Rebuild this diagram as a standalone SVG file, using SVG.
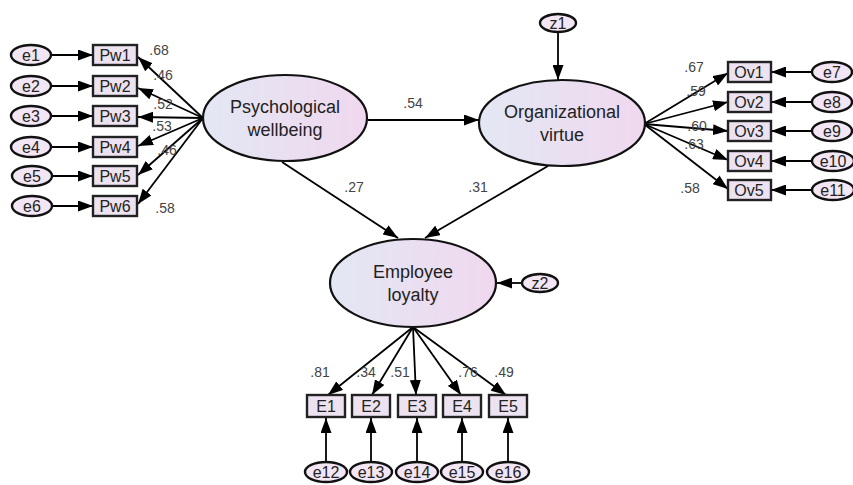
<svg xmlns="http://www.w3.org/2000/svg" width="853" height="485" viewBox="0 0 853 485">
<defs>
<linearGradient id="lat" x1="0" y1="0" x2="1" y2="0">
<stop offset="0" stop-color="#e3e7f4"/>
<stop offset="1" stop-color="#f0d8ef"/>
</linearGradient>
<marker id="ah" viewBox="0 0 15 11" refX="15" refY="5.5" markerWidth="15" markerHeight="11" orient="auto" markerUnits="userSpaceOnUse">
<path d="M0,0 L15,5.5 L0,11 z" fill="#000"/>
</marker>
<style>
.lat{fill:url(#lat);stroke:#111;stroke-width:2.2}
.err{fill:#f2e6f4;stroke:#111;stroke-width:2.4}
.box{fill:#ece2f0;stroke:#222;stroke-width:2.4}
.ln{stroke:#000;stroke-width:1.8;fill:none;marker-end:url(#ah)}
.t{font-family:"Liberation Sans",Arial,sans-serif;fill:#222;text-anchor:middle}
.big{font-size:18px}
.obs{font-size:16px}
.er{font-size:16px}
.lb{font-family:"Liberation Sans",Arial,sans-serif;font-size:14px;fill:#444;text-anchor:middle}
</style>
</defs>
<rect width="853" height="485" fill="#fff"/>

<g id="connectors">
<line class="ln" x1="52" y1="55" x2="93" y2="55"/>
<line class="ln" x1="52" y1="86" x2="93" y2="86"/>
<line class="ln" x1="52" y1="116" x2="93" y2="116"/>
<line class="ln" x1="52" y1="147" x2="93" y2="147"/>
<line class="ln" x1="53" y1="176" x2="93" y2="176"/>
<line class="ln" x1="53" y1="206" x2="93" y2="206"/>
<line class="ln" x1="203" y1="118" x2="138" y2="57"/>
<line class="ln" x1="203" y1="118" x2="138" y2="88"/>
<line class="ln" x1="203" y1="118" x2="138" y2="117"/>
<line class="ln" x1="203" y1="118" x2="138" y2="146"/>
<line class="ln" x1="203" y1="118" x2="138" y2="175"/>
<line class="ln" x1="203" y1="118" x2="138" y2="204"/>
<line class="ln" x1="644" y1="124" x2="728" y2="73"/>
<line class="ln" x1="644" y1="124" x2="728" y2="102"/>
<line class="ln" x1="644" y1="124" x2="728" y2="131"/>
<line class="ln" x1="644" y1="124" x2="728" y2="160"/>
<line class="ln" x1="644" y1="124" x2="728" y2="189"/>
<line class="ln" x1="812" y1="72" x2="771" y2="72"/>
<line class="ln" x1="812" y1="102" x2="771" y2="102"/>
<line class="ln" x1="812" y1="131" x2="771" y2="131"/>
<line class="ln" x1="812" y1="161" x2="771" y2="161"/>
<line class="ln" x1="812" y1="190" x2="771" y2="190"/>
<line class="ln" x1="368" y1="120" x2="479" y2="120"/>
<line class="ln" x1="558" y1="32" x2="558" y2="80"/>
<line class="ln" x1="282" y1="162" x2="398" y2="238"/>
<line class="ln" x1="548" y1="166" x2="425" y2="238"/>
<line class="ln" x1="522" y1="283" x2="497" y2="283"/>
<line class="ln" x1="413" y1="327" x2="328" y2="395"/>
<line class="ln" x1="413" y1="327" x2="372" y2="395"/>
<line class="ln" x1="413" y1="327" x2="416" y2="395"/>
<line class="ln" x1="413" y1="327" x2="461" y2="395"/>
<line class="ln" x1="413" y1="327" x2="506" y2="395"/>
<line class="ln" x1="326" y1="462" x2="326" y2="418"/>
<line class="ln" x1="371" y1="462" x2="371" y2="418"/>
<line class="ln" x1="417" y1="462" x2="417" y2="418"/>
<line class="ln" x1="462" y1="462" x2="462" y2="418"/>
<line class="ln" x1="508" y1="462" x2="508" y2="418"/>
</g>

<g id="labels">
<text class="lb" x="159" y="55">.68</text>
<text class="lb" x="163" y="80">.46</text>
<text class="lb" x="163" y="109">.52</text>
<text class="lb" x="162" y="131">.53</text>
<text class="lb" x="167" y="155">.46</text>
<text class="lb" x="165" y="213">.58</text>
<text class="lb" x="694" y="72">.67</text>
<text class="lb" x="696" y="96">.59</text>
<text class="lb" x="697" y="131">.60</text>
<text class="lb" x="694" y="149">.63</text>
<text class="lb" x="690" y="193">.58</text>
<text class="lb" x="413" y="108">.54</text>
<text class="lb" x="354" y="192">.27</text>
<text class="lb" x="478" y="192">.31</text>
<text class="lb" x="320" y="377">.81</text>
<text class="lb" x="366" y="377">.34</text>
<text class="lb" x="400" y="377">.51</text>
<text class="lb" x="468" y="377">.76</text>
<text class="lb" x="504" y="377">.49</text>
</g>

<g id="psych"><ellipse class="lat" cx="285" cy="118" rx="82" ry="43"/><text class="t big" x="285" y="113">Psychological</text><text class="t big" x="285" y="136">wellbeing</text></g>
<g id="org"><ellipse class="lat" cx="562" cy="123" rx="83" ry="43"/><text class="t big" x="562" y="118">Organizational</text><text class="t big" x="562" y="141">virtue</text></g>
<g id="emp"><ellipse class="lat" cx="413" cy="283" rx="83" ry="44"/><text class="t big" x="413" y="278">Employee</text><text class="t big" x="413" y="301">loyalty</text></g>

<g id="z1"><ellipse class="err" cx="558" cy="23" rx="18" ry="9"/><text class="t er" x="558" y="29">z1</text></g>
<g id="z2"><ellipse class="err" cx="540" cy="283" rx="18" ry="9"/><text class="t er" x="540" y="289">z2</text></g>

<g id="Pw1"><rect class="box" x="93" y="45" width="44" height="20"/><text class="t obs" x="115" y="61">Pw1</text></g>
<g id="Pw2"><rect class="box" x="93" y="76" width="44" height="20"/><text class="t obs" x="115" y="92">Pw2</text></g>
<g id="Pw3"><rect class="box" x="93" y="106" width="44" height="20"/><text class="t obs" x="115" y="122">Pw3</text></g>
<g id="Pw4"><rect class="box" x="93" y="137" width="44" height="20"/><text class="t obs" x="115" y="153">Pw4</text></g>
<g id="Pw5"><rect class="box" x="93" y="166" width="44" height="20"/><text class="t obs" x="115" y="182">Pw5</text></g>
<g id="Pw6"><rect class="box" x="93" y="196" width="44" height="20"/><text class="t obs" x="115" y="212">Pw6</text></g>

<g id="e1"><ellipse class="err" cx="31" cy="55" rx="20" ry="10"/><text class="t er" x="31" y="61">e1</text></g>
<g id="e2"><ellipse class="err" cx="31" cy="86" rx="20" ry="10"/><text class="t er" x="31" y="92">e2</text></g>
<g id="e3"><ellipse class="err" cx="31" cy="116" rx="20" ry="10"/><text class="t er" x="31" y="122">e3</text></g>
<g id="e4"><ellipse class="err" cx="31" cy="147" rx="20" ry="10"/><text class="t er" x="31" y="153">e4</text></g>
<g id="e5"><ellipse class="err" cx="32" cy="176" rx="20" ry="10"/><text class="t er" x="32" y="182">e5</text></g>
<g id="e6"><ellipse class="err" cx="32" cy="206" rx="20" ry="10"/><text class="t er" x="32" y="212">e6</text></g>

<g id="Ov1"><rect class="box" x="728" y="62" width="43" height="20"/><text class="t obs" x="749" y="78">Ov1</text></g>
<g id="Ov2"><rect class="box" x="728" y="92" width="43" height="20"/><text class="t obs" x="749" y="108">Ov2</text></g>
<g id="Ov3"><rect class="box" x="728" y="121" width="43" height="20"/><text class="t obs" x="749" y="137">Ov3</text></g>
<g id="Ov4"><rect class="box" x="728" y="151" width="43" height="20"/><text class="t obs" x="749" y="167">Ov4</text></g>
<g id="Ov5"><rect class="box" x="728" y="180" width="43" height="20"/><text class="t obs" x="749" y="196">Ov5</text></g>

<g id="e7"><ellipse class="err" cx="832" cy="72" rx="20" ry="10"/><text class="t er" x="832" y="78">e7</text></g>
<g id="e8"><ellipse class="err" cx="832" cy="102" rx="20" ry="10"/><text class="t er" x="832" y="108">e8</text></g>
<g id="e9"><ellipse class="err" cx="832" cy="131" rx="20" ry="10"/><text class="t er" x="832" y="137">e9</text></g>
<g id="e10"><ellipse class="err" cx="833" cy="161" rx="21" ry="10"/><text class="t er" x="833" y="167">e10</text></g>
<g id="e11"><ellipse class="err" cx="833" cy="190" rx="21" ry="10"/><text class="t er" x="833" y="196">e11</text></g>

<g id="E1"><rect class="box" x="307" y="395" width="38" height="22"/><text class="t obs" x="326" y="412">E1</text></g>
<g id="E2"><rect class="box" x="352" y="395" width="38" height="22"/><text class="t obs" x="371" y="412">E2</text></g>
<g id="E3"><rect class="box" x="398" y="395" width="38" height="22"/><text class="t obs" x="417" y="412">E3</text></g>
<g id="E4"><rect class="box" x="443" y="395" width="38" height="22"/><text class="t obs" x="462" y="412">E4</text></g>
<g id="E5"><rect class="box" x="489" y="395" width="38" height="22"/><text class="t obs" x="508" y="412">E5</text></g>

<g id="e12"><ellipse class="err" cx="326" cy="472" rx="21" ry="10"/><text class="t er" x="326" y="478">e12</text></g>
<g id="e13"><ellipse class="err" cx="371" cy="472" rx="21" ry="10"/><text class="t er" x="371" y="478">e13</text></g>
<g id="e14"><ellipse class="err" cx="417" cy="472" rx="21" ry="10"/><text class="t er" x="417" y="478">e14</text></g>
<g id="e15"><ellipse class="err" cx="462" cy="472" rx="21" ry="10"/><text class="t er" x="462" y="478">e15</text></g>
<g id="e16"><ellipse class="err" cx="508" cy="472" rx="21" ry="10"/><text class="t er" x="508" y="478">e16</text></g>
</svg>
